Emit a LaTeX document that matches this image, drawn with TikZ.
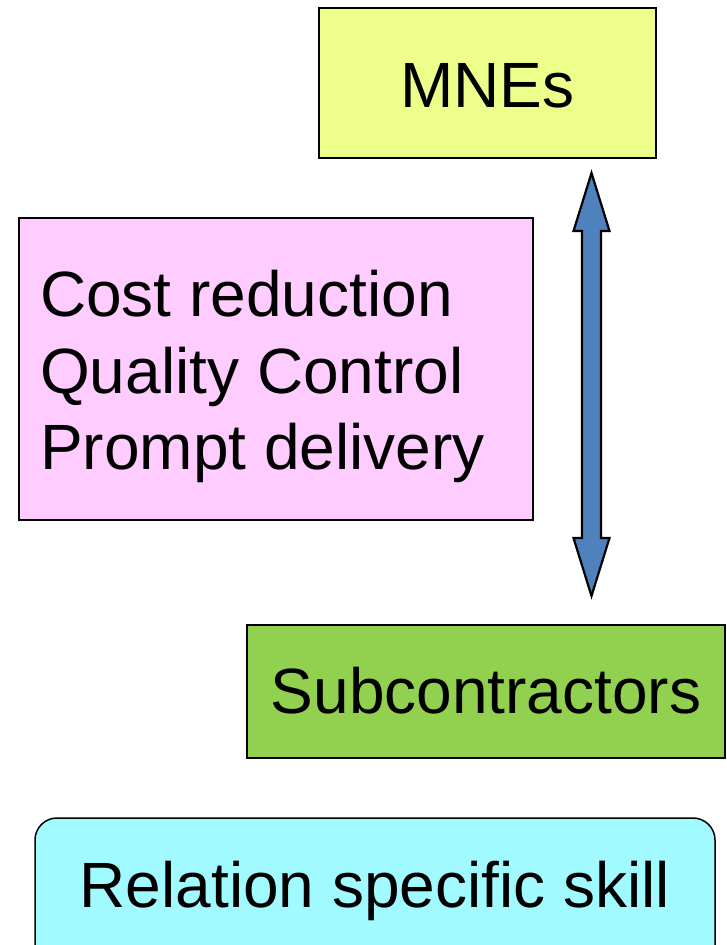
\documentclass[tikz,border=0pt]{standalone}
\usepackage{fontspec}
\setmainfont{Liberation Sans}
\begin{document}
\begin{tikzpicture}[x=1pt,y=-1pt,
  box/.style={draw=black,line width=1.5pt},
  lbl/.style={font=\fontsize{64}{77}\selectfont,inner sep=0pt,anchor=base}]
\useasboundingbox (0,0) rectangle (727,945);
\definecolor{mneyellow}{HTML}{EDFE8B}
\definecolor{pinkbox}{HTML}{FFCCFF}
\definecolor{arrowblue}{HTML}{4F81BD}
\definecolor{subgreen}{HTML}{92D050}
\definecolor{relcyan}{HTML}{A0FAFF}
% boxes
\draw[box,fill=mneyellow] (319,8) rectangle (656,158);
\node[lbl] (mne) at (487.5,107) {MNEs};
\draw[box,fill=pinkbox] (19,218) rectangle (533,520);
\node[lbl,anchor=base west] (ben1) at (40,316) {Cost reduction};
\node[lbl,anchor=base west] (ben2) at (40,393) {Quality Control};
\node[lbl,anchor=base west] (ben3) at (40,469) {Prompt delivery};
\draw[box,fill=subgreen] (247,625) rectangle (725,758);
\node[lbl] (sub) at (486,713) {Subcontractors};
\begin{scope}
\clip (0,0) rectangle (727,945);
\draw[box,fill=relcyan,rounded corners=22pt] (35,818) rectangle (715,970);
\end{scope}
\node[lbl] (rel) at (375,907) {Relation specific skill};
% double arrow
\coordinate (atop) at (591.5,173);
\coordinate (abot) at (591.5,596);
\draw[line width=2.2pt,fill=arrowblue,line join=miter]
  (atop) -- (609.5,231) -- (601,231) -- (601,538) -- (609.5,538) -- (abot)
  -- (573.5,538) -- (582,538) -- (582,231) -- (573.5,231) -- cycle;
\end{tikzpicture}
\end{document}
